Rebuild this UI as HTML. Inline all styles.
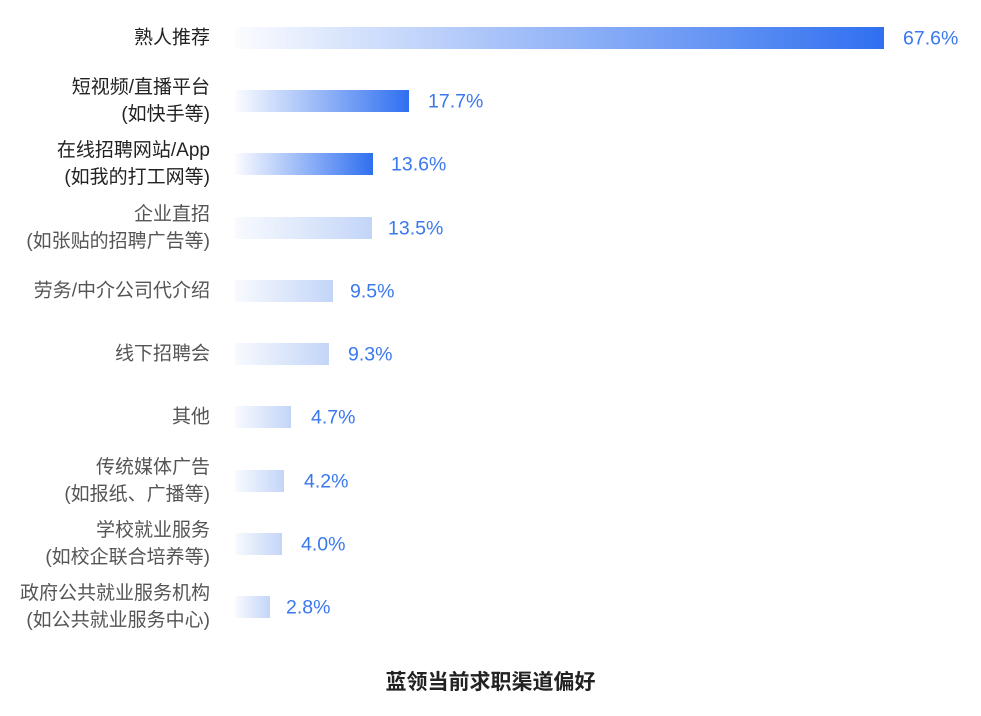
<!DOCTYPE html>
<html><head><meta charset="utf-8"><style>
body{margin:0;background:#fff;width:981px;height:716px;position:relative;overflow:hidden;font-family:"Liberation Sans","Noto Sans CJK SC",sans-serif}
.l{position:absolute;right:771px;text-align:right;font-size:19px;line-height:27px;color:#555;white-space:nowrap;transform:translateY(-50%)}
.d{color:#222}
.b{position:absolute;left:235px;height:22px;transform:translateY(-50%)}
.s{background:linear-gradient(90deg,rgba(47,111,240,0.02),#2f6ff0)}
.w{background:linear-gradient(90deg,rgba(120,160,240,0.05),#c3d5f8)}
.v{position:absolute;font-size:19.5px;color:#3a78ee;transform:translateY(-50%)}
.t{position:absolute;left:0;width:981px;top:666px;text-align:center;font-size:21px;font-weight:bold;color:#222}
</style></head><body>
<div class="l d" style="top:38px">熟人推荐</div><div class="b s" style="top:38px;width:649px"></div><div class="v" style="top:39px;left:903px">67.6%</div>
<div class="l d" style="top:101px">短视频/直播平台<br>(如快手等)</div><div class="b s" style="top:101px;width:174px"></div><div class="v" style="top:102px;left:428px">17.7%</div>
<div class="l d" style="top:164px">在线招聘网站/App<br>(如我的打工网等)</div><div class="b s" style="top:164px;width:138px"></div><div class="v" style="top:165px;left:391px">13.6%</div>
<div class="l" style="top:228px">企业直招<br>(如张贴的招聘广告等)</div><div class="b w" style="top:228px;width:137px"></div><div class="v" style="top:229px;left:388px">13.5%</div>
<div class="l" style="top:291px">劳务/中介公司代介绍</div><div class="b w" style="top:291px;width:98px"></div><div class="v" style="top:292px;left:350px">9.5%</div>
<div class="l" style="top:354px">线下招聘会</div><div class="b w" style="top:354px;width:94px"></div><div class="v" style="top:355px;left:348px">9.3%</div>
<div class="l" style="top:417px">其他</div><div class="b w" style="top:417px;width:56px"></div><div class="v" style="top:418px;left:311px">4.7%</div>
<div class="l" style="top:481px">传统媒体广告<br>(如报纸、广播等)</div><div class="b w" style="top:481px;width:49px"></div><div class="v" style="top:482px;left:304px">4.2%</div>
<div class="l" style="top:544px">学校就业服务<br>(如校企联合培养等)</div><div class="b w" style="top:544px;width:47px"></div><div class="v" style="top:545px;left:301px">4.0%</div>
<div class="l" style="top:607px">政府公共就业服务机构<br>(如公共就业服务中心)</div><div class="b w" style="top:607px;width:35px"></div><div class="v" style="top:608px;left:286px">2.8%</div>
<div class="t">蓝领当前求职渠道偏好</div>
</body></html>
